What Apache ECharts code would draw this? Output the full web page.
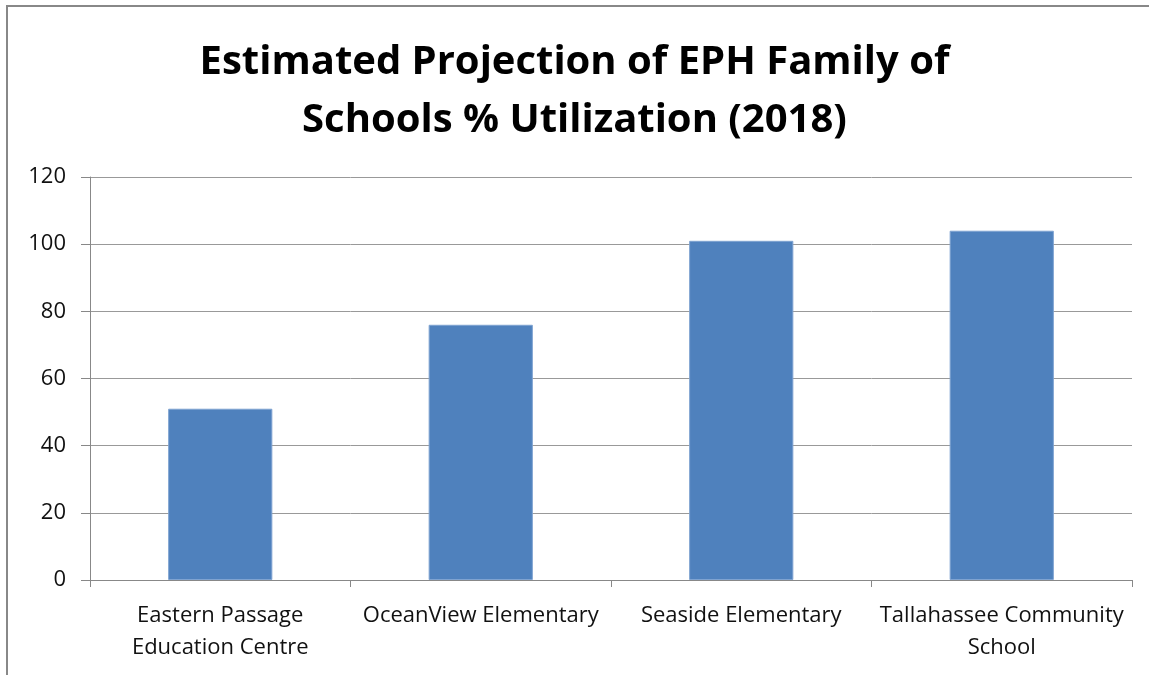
<!DOCTYPE html>
<html>
<head>
<meta charset="utf-8">
<script src="https://cdn.jsdelivr.net/npm/echarts@6/dist/echarts.min.js"></script>
<style>html,body{margin:0;padding:0;background:#fff;}#c{width:1149px;height:675px;}</style>
</head>
<body>
<div id="c"></div>
<script>
var titleText = 'Estimated Projection of EPH Family of\nSchools % Utilization (2018)';
var categories = ['Eastern Passage Education Centre', 'OceanView Elementary', 'Seaside Elementary', 'Tallahassee Community School'];
var categoryLabels = ['Eastern Passage\nEducation Centre', 'OceanView Elementary', 'Seaside Elementary', 'Tallahassee Community\nSchool'];
var utilization = [51, 76, 101, 104];
var yTicks = { min: 0, max: 120, interval: 20 };

var chart = echarts.init(document.getElementById('c'));
chart.setOption({
  animation: false,
  backgroundColor: '#fff',
  graphic: [{
    type: 'rect',
    shape: { x: 7, y: 6, width: 1170, height: 700 },
    style: { fill: 'none', stroke: '#888', lineWidth: 2 },
    silent: true
  }],
  title: {
    text: titleText,
    left: 'center',
    top: 29,
    textStyle: {
      fontFamily: 'Open Sans',
      fontWeight: 'bold',
      fontSize: 40,
      lineHeight: 58,
      color: '#000'
    }
  },
  grid: { left: 90, right: 17, top: 177, bottom: 95, containLabel: false },
  xAxis: {
    type: 'category',
    data: categories,
    axisLine: { lineStyle: { color: '#888', width: 1 } },
    axisTick: { show: true, length: 7, lineStyle: { color: '#888' }, alignWithLabel: false },
    axisLabel: {
      interval: 0,
      margin: 20,
      formatter: function (v, i) { return categoryLabels[i]; },
      fontFamily: 'Open Sans',
      fontSize: 22,
      lineHeight: 32,
      color: '#111'
    }
  },
  yAxis: {
    type: 'value',
    min: yTicks.min,
    max: yTicks.max,
    interval: yTicks.interval,
    axisLine: { show: true, lineStyle: { color: '#888' } },
    axisTick: { show: true, length: 9, lineStyle: { color: '#888' } },
    splitLine: { lineStyle: { color: '#999', width: 1 } },
    axisLabel: {
      margin: 24,
      fontFamily: 'Open Sans',
      fontSize: 22,
      color: '#111'
    }
  },
  series: [{
    type: 'bar',
    data: utilization,
    barWidth: '40%',
    itemStyle: { color: '#4f81bd', borderColor: '#7fa3d1', borderWidth: 1 }
  }]
});
</script>
</body>
</html>
